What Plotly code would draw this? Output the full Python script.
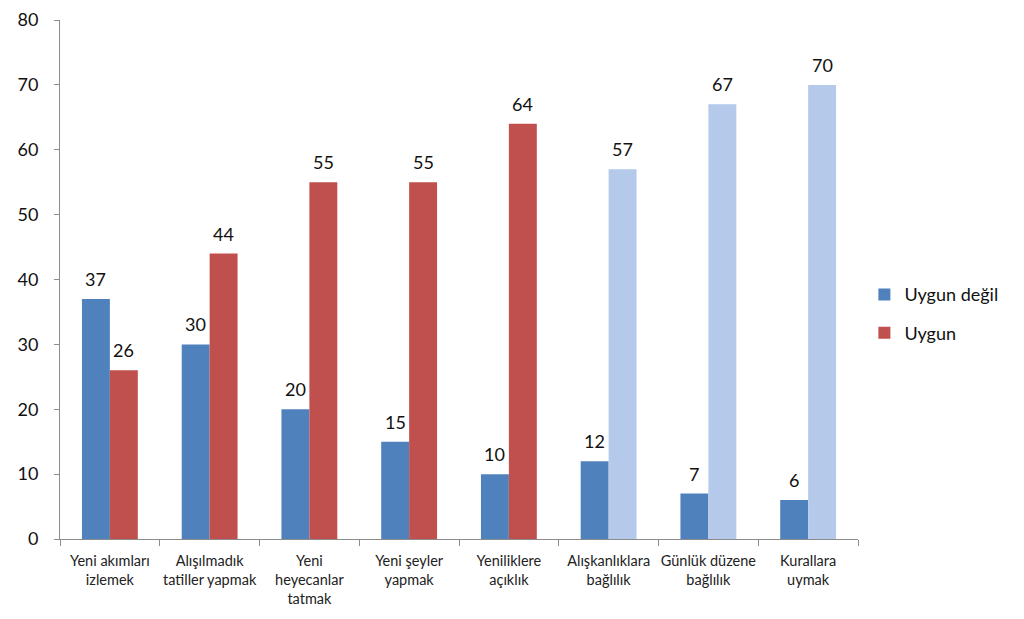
import plotly.graph_objects as go

categories = ["Yeni akımları<br>izlemek", "Alışılmadık<br>tatiller yapmak", "Yeni<br>heyecanlar<br>tatmak",
              "Yeni şeyler<br>yapmak", "Yeniliklere<br>açıklık", "Alışkanlıklara<br>bağlılık",
              "Günlük düzene<br>bağlılık", "Kurallara<br>uymak"]
uygun_degil = [37, 30, 20, 15, 10, 12, 7, 6]
uygun = [26, 44, 55, 55, 64, 57, 67, 70]
uygun_colors = ["#C0504D"] * 5 + ["#B5C9EB"] * 3

font_family = "Lato, Open Sans, sans-serif"

fig = go.Figure()
fig.add_trace(go.Bar(
    x=categories, y=uygun_degil, name="Uygun değil", legendgroup="a",
    marker=dict(color="#4F81BD", line=dict(width=0)),
))
fig.add_trace(go.Bar(
    x=categories, y=uygun, name="Uygun", legendgroup="b",
    marker=dict(color=uygun_colors, line=dict(width=0)),
))

# value labels above bars
for cat, v in zip(categories, uygun_degil):
    fig.add_annotation(x=cat, y=v, xref="x", yref="y", text=str(v), showarrow=False,
                       yanchor="middle", yshift=20, xshift=-14,
                       font=dict(size=18, color="#111111", family=font_family))
for cat, v in zip(categories, uygun):
    fig.add_annotation(x=cat, y=v, xref="x", yref="y", text=str(v), showarrow=False,
                       yanchor="middle", yshift=20, xshift=14,
                       font=dict(size=18, color="#111111", family=font_family))

fig.update_layout(
    width=1024, height=619,
    margin=dict(l=52, r=174, t=12, b=88, autoexpand=False),
    paper_bgcolor="white", plot_bgcolor="white",
    barmode="group", bargap=0.44, bargroupgap=0,
    font=dict(family=font_family, color="#111111"),
    showlegend=True,
    legend=dict(x=1.008, y=0.434, xanchor="left", yanchor="middle",
                font=dict(size=18, color="#111111", family=font_family),
                tracegroupgap=12, itemwidth=30),
)
fig.update_xaxes(
    automargin=False, tickangle=0,
    showline=True, linecolor="#8C8C8C", linewidth=1,
    ticks="outside", tickson="boundaries", ticklen=6, tickcolor="#8C8C8C",
    tickfont=dict(size=14.5, color="#222222", family=font_family),
    ticklabelstandoff=9,
    showgrid=False,
)
fig.update_yaxes(
    automargin=False,
    range=[0, 80], dtick=10, showline=True, linecolor="#8C8C8C", linewidth=1,
    ticks="outside", ticklen=5, tickcolor="#8C8C8C",
    tickfont=dict(size=18, color="#111111", family=font_family),
    ticklabelstandoff=12, showgrid=False, zeroline=False,
)

fig.write_html("out.html")
